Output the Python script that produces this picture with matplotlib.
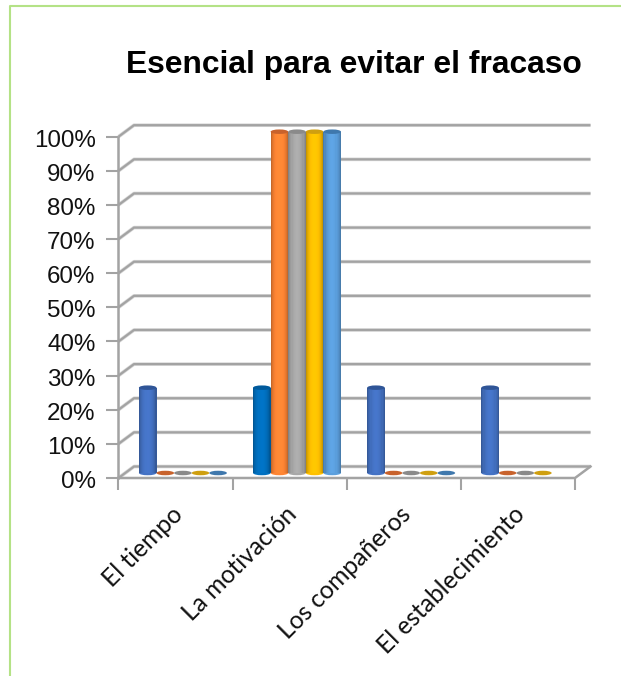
import numpy as np
import matplotlib
matplotlib.use("Agg")
import matplotlib.pyplot as plt
import matplotlib.colors as mcolors
from matplotlib.patches import Ellipse
from matplotlib.transforms import ScaledTranslation

W, H = 621, 676

categories = ["El tiempo", "La motivación", "Los compañeros", "El establecimiento"]
pct_ticks = [0, 10, 20, 30, 40, 50, 60, 70, 80, 90, 100]
pct_labels = ["0%", "10%", "20%", "30%", "40%", "50%", "60%", "70%", "80%", "90%", "100%"]

# five series per category, nan = not drawn at all
s1 = [25, 25, 25, 25]
s2 = [0, 100, 0, 0]
s3 = [0, 100, 0, 0]
s4 = [0, 100, 0, 0]
s5 = [0, 100, 0, np.nan]
series = [s1, s2, s3, s4, s5]
colors = ["#4472c4", "#ff8533", "#a8a8a8", "#ffc000", "#5b9fdd"]
flat_colors = ["#2f5597", "#c8622c", "#8a8a8a", "#cf9f10", "#3f78ad"]
# second category first bar is a different blue in the source
special = {(0, 1): ("#0070c0", "#005a9c")}

grid_c = "#a3a3a3"
plt.rcParams["font.family"] = ["Liberation Sans", "DejaVu Sans"]

fig = plt.figure(figsize=(W / 100, H / 100), dpi=100)
ax = fig.add_axes([118.5 / W, (H - 478) / H, (575 - 118.5) / W, (478 - 136.7) / H])
ax.set_xlim(0, 4)
ax.set_ylim(0, 100)
ax.patch.set_visible(False)
for s in ax.spines.values():
    s.set_visible(False)

px_x = 4 / (575 - 118.5)    # data units per pixel
px_y = 100 / (478 - 136.7)
dx, dy = 15.5 * px_x, 11.5 * px_y   # depth of the fake 3d box

# gridlines with the walls
for v in pct_ticks:
    xs = [0, dx, 4 + dx]
    ys = [v, v + dy, v + dy]
    ax.plot(xs, ys, color="#d8d8d8", lw=2.6, clip_on=False, zorder=1, solid_capstyle="butt")
    ax.plot(xs, ys, color=grid_c, lw=1.6, clip_on=False, zorder=1.1, solid_capstyle="butt")
ax.plot([0, 0], [0, 100], color=grid_c, lw=1.8, clip_on=False, zorder=1.2)
ax.plot([0, 4, 4 + dx], [0, 0, dy], color=grid_c, lw=1.8, clip_on=False, zorder=1.2)

# cylinders
bar_w = 17.6 * px_x
first = 29.2 * px_x
base = 5 * px_y
ell_h = 4.5 * px_y
n_strips = 16


def shade(col, t):
    # t from 0 to 1 across the cylinder
    rgb = np.array(mcolors.to_rgb(col))
    k = 0.66 + 0.38 * np.sin(np.pi * t) ** 0.5
    return tuple(np.clip(rgb * k, 0, 1))


for c in range(len(categories)):
    for i, vals in enumerate(series):
        v = vals[c]
        if np.isnan(v):
            continue
        col, top_col = special.get((i, c), (colors[i], flat_colors[i]))
        xc = c + first + i * bar_w
        z = 3 + i * 0.1
        if v > 0:
            ax.add_patch(Ellipse((xc, base), bar_w, ell_h, color=col, lw=0, zorder=z, clip_on=False))
            sw = bar_w / n_strips
            for k in range(n_strips):
                t = (k + 0.5) / n_strips
                ax.bar(xc - bar_w / 2 + t * bar_w, v, width=sw * 1.05, bottom=base,
                       color=shade(col, t), lw=0, zorder=z, clip_on=False)
        ax.add_patch(Ellipse((xc, base + v), bar_w, ell_h, color=top_col, lw=0, zorder=z + 0.05, clip_on=False))

# axes ticks and labels
ax.set_yticks(pct_ticks)
ax.set_yticklabels(pct_labels, fontsize=17.4, color="#111111")
ax.tick_params(axis="y", length=8.5, width=1.5, color=grid_c, pad=8)
nudge = ScaledTranslation(0, -1.5 / 100, fig.dpi_scale_trans)
for lab in ax.get_yticklabels():
    lab.set_transform(lab.get_transform() + nudge)

ax.set_xticks(np.arange(5))
ax.set_xticklabels([])
ax.tick_params(axis="x", which="major", length=8.5, width=1.5, color=grid_c)
ax.set_xticks(np.arange(4) + 0.455, minor=True)
ax.set_xticklabels(categories, minor=True, rotation=45, ha="right", va="top",
                   rotation_mode="anchor", fontsize=17.7, family=["Lato", "DejaVu Sans"],
                   color="#111111")
ax.tick_params(axis="x", which="minor", length=0, pad=17.5)

fig.text(354 / W, (H - 65) / H, "Esencial para evitar el fracaso", ha="center", va="center",
         fontsize=22.9, fontweight="bold", color="black")

# green frame of the page
fig.add_artist(plt.Line2D([10.2 / W, 10.2 / W, 1], [0, (H - 5.7) / H, (H - 5.7) / H],
                          color="#b4e286", lw=1.5))

fig.savefig("out.png", dpi=100)
